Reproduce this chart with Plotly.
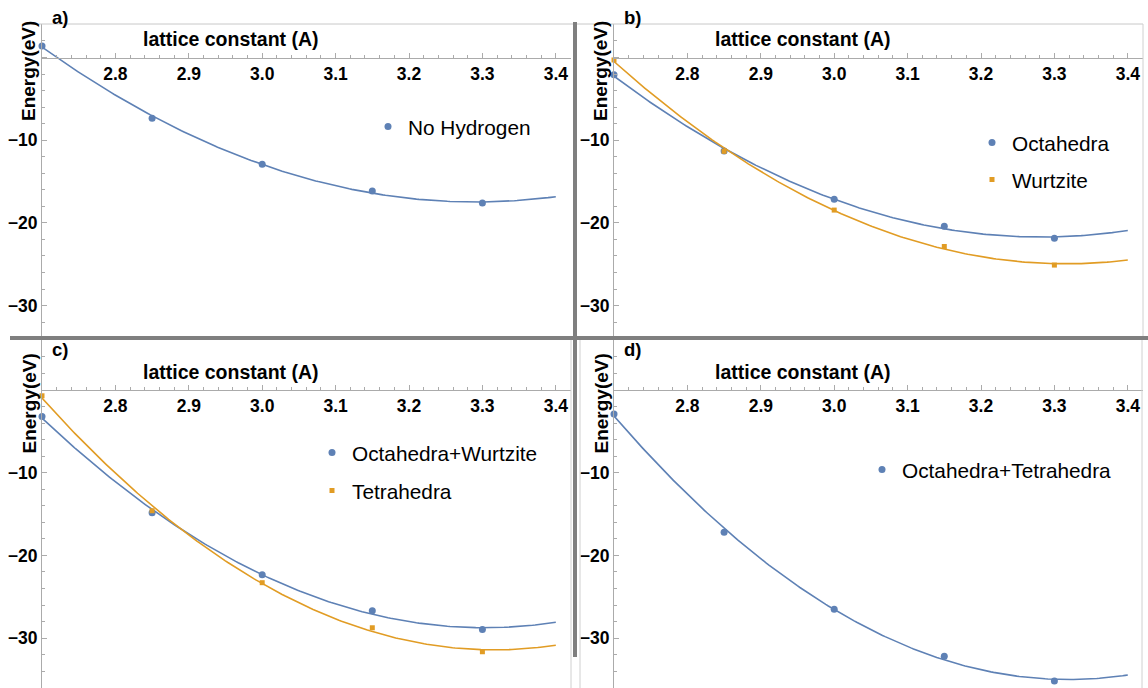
import numpy as np
import plotly.graph_objects as go

# ---------------- data ----------------
lattice = [2.7, 2.85, 3.0, 3.15, 3.3]
no_hydrogen = [1.4, -7.35, -12.9, -16.15, -17.6]
octahedra = [-2.1, -11.3, -17.15, -20.4, -21.85]
wurtzite = [-0.3, -11.35, -18.45, -22.85, -25.1]
octa_wurtz = [-3.2, -14.85, -22.35, -26.7, -28.95]
tetrahedra = [-0.7, -14.6, -23.3, -28.75, -31.65]
octa_tetra = [-2.9, -17.2, -26.5, -32.2, -35.2]

x_ticks = [2.8, 2.9, 3.0, 3.1, 3.2, 3.3, 3.4]
x_tick_text = ["2.8", "2.9", "3.0", "3.1", "3.2", "3.3", "3.4"]
y_ticks = [-30, -20, -10, 0]
y_tick_text = ["\u221230", "\u221220", "\u221210", ""]

panel_labels = ["a)", "b)", "c)", "d)"]
x_title = "lattice constant (A)"
y_title = "Energy(eV)"

BLUE = "#5E81B5"
ORANGE = "#E19C24"
AXIS = "#ababab"

W, H = 1148, 688
KY = 8.27   # px per eV
KX = 734.0  # px per angstrom
FONT = "Liberation Sans, Arial, sans-serif"

panels = [
    dict(x0=42, x1=571, top=24, bottom=336, zero=57.5),
    dict(x0=614, x1=1143, top=24, bottom=336, zero=57.5),
    dict(x0=42, x1=571, top=340, bottom=688, zero=390),
    dict(x0=614, x1=1143, top=340, bottom=688, zero=390),
]

series = [
    [("No Hydrogen", no_hydrogen, BLUE, "circle", 7)],
    [("Octahedra", octahedra, BLUE, "circle", 7), ("Wurtzite", wurtzite, ORANGE, "square", 5)],
    [("Octahedra+Wurtzite", octa_wurtz, BLUE, "circle", 7), ("Tetrahedra", tetrahedra, ORANGE, "square", 5)],
    [("Octahedra+Tetrahedra", octa_tetra, BLUE, "circle", 7)],
]

legend_pos = [(388, 127, 7), (992, 143, 7), (332, 453, 8), (882, 470, 7)]

fig = go.Figure()
layout = dict(
    width=W, height=H, margin=dict(l=0, r=0, t=0, b=0),
    paper_bgcolor="white", plot_bgcolor="rgba(0,0,0,0)",
    font=dict(family=FONT, color="black"),
    annotations=[], shapes=[],
)

xfit = np.linspace(2.7, 3.4, 200)
for i, (p, ser) in enumerate(zip(panels, series)):
    n = i + 1
    xa = "x" if n == 1 else f"x{n}"
    ya = "y" if n == 1 else f"y{n}"
    leg = "legend" if n == 1 else f"legend{n}"
    ydom = [1 - p["bottom"] / H, 1 - p["top"] / H]
    yr = [-(p["bottom"] - p["zero"]) / KY, (p["zero"] - p["top"]) / KY]
    xr = [2.7, 2.7 + (p["x1"] - p["x0"]) / KX]
    layout[f"xaxis{n}"] = dict(
        domain=[p["x0"] / W, p["x1"] / W], range=xr, anchor="free",
        position=1 - p["zero"] / H, showgrid=False, zeroline=False,
        showline=True, linecolor=AXIS, linewidth=1,
        ticks="inside", ticklen=5, tickcolor=AXIS, tickwidth=1,
        tickmode="array", tickvals=x_ticks, ticktext=x_tick_text,
        tickfont=dict(family=FONT, size=17.5, weight="bold", color="black"),
        minor=dict(ticks="inside", ticklen=3, tickcolor=AXIS, tick0=2.7, dtick=0.02, showgrid=False),
    )
    layout[f"yaxis{n}"] = dict(
        domain=ydom, range=yr, anchor=xa, showgrid=False, zeroline=False,
        showline=True, linecolor=AXIS, linewidth=1,
        ticks="inside", ticklen=5, tickcolor=AXIS, tickwidth=1,
        tickmode="array", tickvals=y_ticks, ticktext=y_tick_text,
        tickfont=dict(family=FONT, size=17.5, weight="bold", color="black"),
        minor=dict(ticks="inside", ticklen=3, tickcolor=AXIS, tick0=0, dtick=2, showgrid=False),
    )
    for g, (name, vals, col, sym, size) in enumerate(ser):
        coef = np.polyfit(lattice, vals, 2)
        fig.add_trace(go.Scatter(
            x=xfit, y=np.polyval(coef, xfit), mode="lines",
            line=dict(color=col, width=1.6), showlegend=False,
            xaxis=xa, yaxis=ya, hoverinfo="skip", cliponaxis=False,
        ))
        fig.add_trace(go.Scatter(
            x=lattice, y=vals, mode="markers", name=name,
            marker=dict(color=col, symbol=sym, size=size),
            xaxis=xa, yaxis=ya, legend=leg, legendgroup=f"{n}-{g}",
            cliponaxis=False,
        ))
    mx, my, gap = legend_pos[i]
    layout[leg] = dict(
        x=(mx - 20) / W, xanchor="left", y=1 - (my - 20.5) / H, yanchor="top",
        bgcolor="rgba(0,0,0,0)", borderwidth=0,
        font=dict(family=FONT, size=20.8, color="black"),
        tracegroupgap=gap,
    )
    # texts
    ox = p["x0"] - 42
    oy = p["zero"] - 57.5
    layout["annotations"] += [
        dict(text=panel_labels[i], x=(ox + 60) / W, y=1 - (oy + 17) / H, xref="paper", yref="paper",
             showarrow=False, xanchor="center", yanchor="middle",
             font=dict(family=FONT, size=18.5, weight="bold")),
        dict(text=x_title, x=(ox + 231) / W, y=1 - (oy + 39) / H, xref="paper", yref="paper",
             showarrow=False, xanchor="center", yanchor="middle",
             font=dict(family=FONT, size=19.5, weight="bold")),
        dict(text=y_title, x=(ox + 29) / W, y=1 - (oy + 71) / H, xref="paper", yref="paper",
             showarrow=False, xanchor="center", yanchor="middle", textangle=-90,
             font=dict(family=FONT, size=19, weight="bold")),
    ]

def line(x0, y0, x1, y1, color, width):
    return dict(type="line", xref="paper", yref="paper", x0=x0 / W, x1=x1 / W,
                y0=1 - y0 / H, y1=1 - y1 / H, line=dict(color=color, width=width), layer="above")

layout["shapes"] += [
    line(22, 24, 1143, 24, "#c8c8c8", 1),
    line(1143, 24, 1143, 338, "#d0d0d0", 1),
    line(1142, 338, 1142, 688, "#d0d0d0", 1),
    line(571, 338, 571, 688, "#d0d0d0", 1),
    line(580, 338, 580, 688, "#d0d0d0", 1),
    line(10, 338, 1148, 338, "#7f7f7f", 4),
    line(575, 22, 575, 657, "#7f7f7f", 4),
]

fig.update_layout(**layout)
fig.write_html("out.html")
